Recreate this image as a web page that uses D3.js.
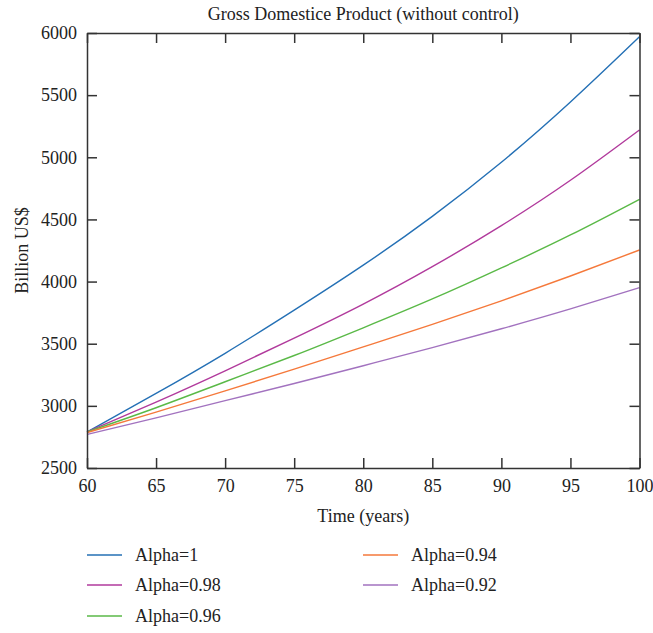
<!DOCTYPE html>
<html>
<head>
<meta charset="utf-8">
<script src="https://cdn.jsdelivr.net/npm/d3@7"></script>
<style>
  html, body { margin: 0; padding: 0; background: #fff; }
  svg text { font-family: "Liberation Serif", "DejaVu Serif", serif; fill: #222; }
</style>
</head>
<body>
<svg id="chart" width="653" height="633"></svg>
<script>
// Time axis (years) and GDP for each fractional order alpha
const years = [60, 65, 70, 75, 80, 85, 90, 95, 100];
const alpha100 = [2790, 3100, 3423, 3770, 4132, 4525, 4960, 5445, 5970];
const alpha098 = [2790, 3030, 3282, 3545, 3819, 4120, 4450, 4815, 5220];
const alpha096 = [2790, 2985, 3194, 3405, 3628, 3860, 4110, 4375, 4662];
const alpha094 = [2785, 2950, 3121, 3295, 3474, 3655, 3845, 4045, 4254];
const alpha092 = [2770, 2903, 3042, 3180, 3323, 3468, 3620, 3780, 3951];

const seriesNames = ["Alpha=1", "Alpha=0.98", "Alpha=0.96", "Alpha=0.94", "Alpha=0.92"];
const seriesColors = ["#2470b5", "#b13a9c", "#5ab947", "#f5793b", "#a272bf"];
const seriesValues = [alpha100, alpha098, alpha096, alpha094, alpha092];

const xTicks = [60, 65, 70, 75, 80, 85, 90, 95, 100];
const yTicks = [2500, 3000, 3500, 4000, 4500, 5000, 5500, 6000];

const svg = d3.select("#chart");
const plotLeft = 87, plotRight = 639.5, plotTop = 33, plotBottom = 468;
const fontSize = 18;

const x = d3.scaleLinear().domain([60, 100]).range([plotLeft, plotRight]);
const y = d3.scaleLinear().domain([2500, 6000]).range([plotBottom, plotTop]);

const axisColor = "#333";
const tickLen = 10;

// Curves
const line = d3.line()
  .x((d, i) => x(years[i]))
  .y(d => y(d))
  .curve(d3.curveNatural);

seriesValues.forEach((vals, k) => {
  svg.append("path")
    .attr("d", line(vals))
    .attr("fill", "none")
    .attr("stroke", seriesColors[k])
    .attr("stroke-width", 1.4);
});

// Frame with inward ticks on all four sides
const fmt = d3.format("d");
const bottomAxis = d3.axisBottom(x).tickValues(xTicks).tickFormat(fmt).tickSize(-tickLen).tickPadding(11).tickSizeOuter(0);
const topAxis = d3.axisTop(x).tickValues(xTicks).tickSize(-tickLen).tickFormat("").tickSizeOuter(0);
const leftAxis = d3.axisLeft(y).tickValues(yTicks).tickFormat(fmt).tickSize(-tickLen).tickPadding(10).tickSizeOuter(0);
const rightAxis = d3.axisRight(y).tickValues(yTicks).tickSize(-tickLen).tickFormat("").tickSizeOuter(0);

function styleAxis(g) {
  g.select(".domain").attr("stroke", axisColor).attr("stroke-width", 1.5);
  g.selectAll(".tick line").attr("stroke", axisColor).attr("stroke-width", 1.5);
  g.selectAll(".tick text").attr("font-size", fontSize).attr("fill", "#222")
    .attr("font-family", "'Liberation Serif', 'DejaVu Serif', serif");
}

svg.append("g").attr("transform", `translate(0,${plotBottom})`).call(bottomAxis).call(styleAxis);
svg.append("g").attr("transform", `translate(0,${plotTop})`).call(topAxis).call(styleAxis);
svg.append("g").attr("transform", `translate(${plotLeft},0)`).call(leftAxis).call(styleAxis);
svg.append("g").attr("transform", `translate(${plotRight},0)`).call(rightAxis).call(styleAxis);

// Titles
svg.append("text")
  .attr("x", (plotLeft + plotRight) / 2).attr("y", 20)
  .attr("text-anchor", "middle").attr("font-size", fontSize)
  .text("Gross Domestice Product (without control)");

svg.append("text")
  .attr("x", (plotLeft + plotRight) / 2).attr("y", 522)
  .attr("text-anchor", "middle").attr("font-size", fontSize)
  .text("Time (years)");

svg.append("text")
  .attr("transform", `translate(28,${(plotTop + plotBottom) / 2}) rotate(-90)`)
  .attr("text-anchor", "middle").attr("font-size", fontSize)
  .text("Billion US$");

// Legend: two columns
const legendPos = [
  [87, 555], [87, 585], [87, 616],
  [363, 555], [363, 585]
];
seriesNames.forEach((name, k) => {
  const [lx, ly] = legendPos[k];
  const g = svg.append("g").attr("transform", `translate(${lx},${ly})`);
  g.append("line").attr("x1", 0).attr("x2", 35).attr("y1", 0).attr("y2", 0)
    .attr("stroke", seriesColors[k]).attr("stroke-width", 1.4);
  g.append("text").attr("x", 48).attr("y", 6).attr("font-size", fontSize).text(name);
});
</script>
</body>
</html>
